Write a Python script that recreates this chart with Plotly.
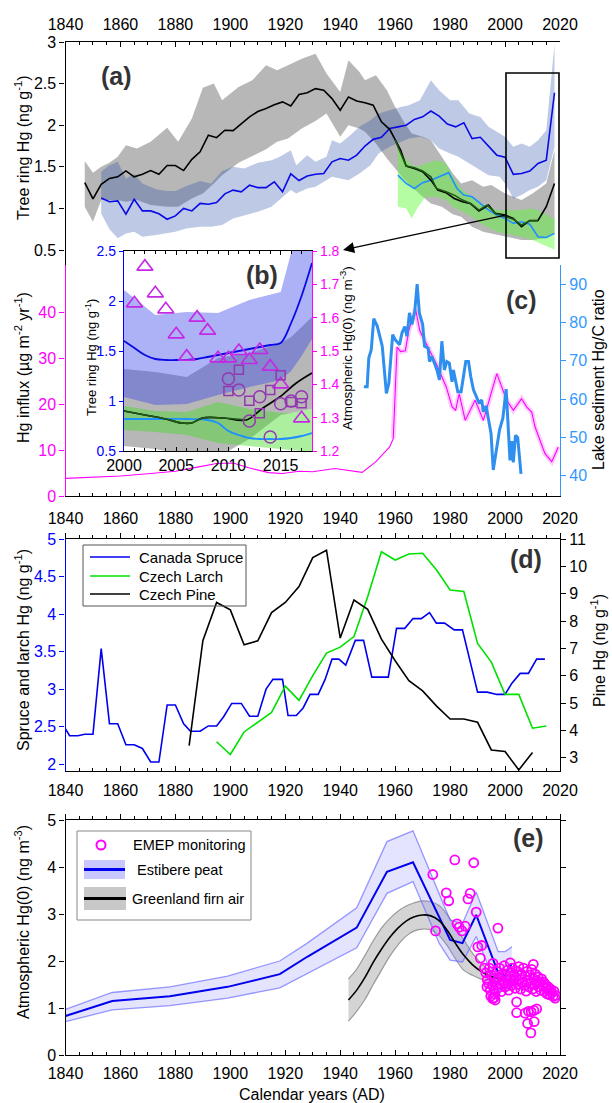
import plotly.graph_objects as go

W, H = 612, 1103
FONT = "Liberation Sans, Arial, Helvetica, sans-serif"
MAG = "#ff00ff"
LB = "#3399ff"
BLUE = "#0000ff"


def px(x):
    return x / W


def py(y):
    return 1 - y / H


# ---------------- Panel (a): tree ring Hg ----------------
a_black_years = [1847, 1850, 1853, 1856, 1859, 1862, 1865, 1868, 1871, 1874, 1877, 1880, 1883, 1886, 1889,
                 1892, 1895, 1898, 1901, 1904, 1907, 1910, 1913, 1916, 1919, 1922, 1925, 1928, 1931, 1934,
                 1937, 1940, 1943, 1946, 1949, 1952, 1955, 1958, 1960, 1962, 1964, 1967, 1970, 1973, 1975.5,
                 1978.5, 1981.5, 1984.5, 1987.5, 1990.5, 1994, 1996.5, 2000, 2003, 2006, 2009, 2012, 2015, 2018]
a_black_vals = [1.31, 1.115, 1.29, 1.36, 1.38, 1.45, 1.38, 1.41, 1.455, 1.41, 1.515, 1.515, 1.455, 1.59, 1.68,
                1.88, 1.85, 1.94, 1.935, 2.015, 2.10, 2.165, 2.20, 2.245, 2.28, 2.23, 2.37, 2.39, 2.44, 2.42,
                2.32, 2.18, 2.34, 2.29, 2.27, 2.24, 2.04, 1.95, 1.82, 1.70, 1.51, 1.48, 1.44, 1.34, 1.22,
                1.19, 1.12, 1.08, 1.055, 0.97, 1.04, 0.94, 0.92, 0.88, 0.78, 0.855, 0.855, 1.02, 1.30]

a_dgreen_years = [1960, 1962, 1964, 1967, 1970, 1973, 1975, 1978.5, 1981.5, 1984.5, 1987.5, 1990.5, 1993.5,
                  1996.5, 2000, 2003, 2006, 2009, 2012]
a_dgreen_vals = [1.82, 1.66, 1.51, 1.49, 1.45, 1.38, 1.24, 1.20, 1.16, 1.10, 1.06, 0.98, 1.04,
                 0.94, 0.90, 0.87, 0.80, 0.85, 0.85]

a_blue_years = [1853, 1856, 1859, 1862, 1865, 1868, 1871, 1874, 1877, 1880,
                1883, 1886, 1889, 1892, 1895, 1898, 1901, 1904, 1907, 1910,
                1913, 1916, 1919, 1922, 1925, 1928, 1931, 1934, 1937, 1940,
                1943, 1946, 1949, 1952, 1955, 1958, 1961, 1964, 1967, 1970,
                1973, 1976, 1979, 1982, 1985, 1988, 1991, 1994, 1997, 2000,
                2003, 2006, 2009, 2012, 2015, 2018]
a_blue_vals = [1.125, 1.08, 1.09, 0.93, 1.11, 0.97, 0.97, 0.935, 0.87, 0.91,
               1.0, 0.97, 1.06, 1.05, 1.07, 1.175, 1.22, 1.20, 1.28, 1.25,
               1.25, 1.32, 1.20, 1.415, 1.335, 1.39, 1.41, 1.42, 1.56, 1.60,
               1.58, 1.64, 1.75, 1.83, 1.855, 1.96, 1.98, 2.0, 2.07, 2.10,
               2.17, 2.11, 2.015, 1.98, 2.03, 1.84, 1.855, 1.745, 1.64, 1.615,
               1.41, 1.42, 1.45, 1.54, 1.58, 2.39]

a_cyan_years = [1961, 1964, 1967, 1970, 1973, 1977, 1979.5, 1982.5, 1985, 1988, 1991, 1994, 1997, 2000,
                2003, 2006, 2009, 2012, 2015, 2018]
a_cyan_vals = [1.40, 1.30, 1.24, 1.31, 1.34, 1.40, 1.43, 1.24, 1.16, 1.14, 1.06, 0.98, 0.92, 0.88,
               0.82, 0.84, 0.81, 0.66, 0.65, 0.70]

a_gray_years = [1847, 1850, 1853, 1856, 1859, 1862, 1866, 1871, 1877, 1881, 1886, 1890, 1894, 1897, 1903,
                1908, 1913, 1917, 1921, 1926, 1931, 1935, 1940, 1943, 1947, 1949, 1953, 1957, 1960, 1963,
                1966, 1970, 1973, 1977, 1981, 1984, 1988, 1992, 1995, 2000, 2003, 2006, 2010, 2015, 2018]
a_gray_hi = [1.57, 1.43, 1.50, 1.55, 1.62, 1.76, 1.72, 1.80, 1.97, 1.80, 2.08, 2.45, 2.50, 2.30, 2.46,
             2.54, 2.72, 2.66, 2.72, 2.80, 2.86, 2.62, 2.40, 2.78, 2.64, 2.54, 2.60, 2.42, 2.22, 2.05,
             1.90, 1.86, 1.82, 1.62, 1.42, 1.30, 1.34, 1.26, 1.28, 1.18, 1.14, 1.10, 1.18, 1.30, 1.70]
a_gray_lo = [1.02, 0.84, 1.10, 1.10, 1.10, 1.08, 1.10, 1.04, 1.02, 1.02, 1.12, 1.18, 1.30, 1.40, 1.55,
             1.63, 1.71, 1.80, 1.84, 1.96, 2.05, 2.14, 1.86, 2.00, 1.96, 1.92, 1.78, 1.60, 1.48, 1.36,
             1.26, 1.14, 1.06, 1.02, 0.93, 0.90, 0.78, 0.72, 0.70, 0.66, 0.64, 0.62, 0.62, 0.64, 0.70]

a_bband_years = [1853, 1856, 1859, 1862, 1865, 1868, 1873, 1877, 1880, 1884, 1889, 1893, 1897, 1901, 1905,
                 1910, 1915, 1918, 1922, 1924, 1928, 1931, 1935, 1937, 1940, 1943, 1947, 1951, 1954, 1958,
                 1962, 1965, 1969, 1973, 1976, 1980, 1983, 1987, 1991, 1994, 1998, 2000, 2003, 2006, 2009,
                 2012, 2015, 2018]
a_bband_hi = [1.44, 1.52, 1.56, 1.36, 1.41, 1.30, 1.23, 1.21, 1.21, 1.27, 1.33, 1.30, 1.45, 1.50, 1.48,
              1.55, 1.58, 1.62, 1.70, 1.52, 1.64, 1.56, 1.62, 1.82, 1.78, 1.86, 1.98, 2.06, 2.14, 2.18,
              2.22, 2.24, 2.30, 2.54, 2.42, 2.30, 2.30, 2.14, 2.10, 1.98, 1.90, 1.86, 1.74, 1.78, 1.74,
              1.82, 1.94, 2.98]
a_bband_lo = [0.94, 0.75, 0.64, 0.70, 0.72, 0.66, 0.68, 0.70, 0.72, 0.76, 0.78, 0.78, 0.80, 0.88, 0.92,
              0.96, 1.02, 1.10, 1.22, 1.18, 1.24, 1.26, 1.34, 1.38, 1.36, 1.34, 1.42, 1.52, 1.66, 1.74,
              1.80, 1.84, 1.86, 1.82, 1.72, 1.66, 1.62, 1.54, 1.46, 1.40, 1.38, 1.30, 1.12, 1.16, 1.22,
              1.26, 1.34, 1.74]

a_gband_years = [1961, 1964, 1966, 1968, 1971, 1975, 1978.5, 1981, 1984.5, 1988, 1992, 1997, 2000, 2003,
                 2006, 2010, 2014, 2017, 2018]
a_gband_hi = [1.72, 1.60, 1.52, 1.50, 1.54, 1.58, 1.54, 1.38, 1.22, 1.14, 1.04, 0.98, 0.98, 0.98,
              0.98, 1.00, 0.95, 0.88, 0.88]
a_gband_lo = [1.02, 1.00, 0.88, 1.00, 1.14, 1.14, 1.10, 1.02, 0.96, 0.90, 0.80, 0.72, 0.70, 0.68,
              0.66, 0.62, 0.56, 0.52, 0.50]

# ---------------- Panel (b): inset 2000-2018 ----------------
b_band_years = [2000, 2003, 2006, 2009, 2012, 2015, 2016, 2017, 2018]
b_blue_hi = [2.11, 1.86, 1.89, 1.88, 2.01, 2.09, 2.48, 2.70, 2.80]
b_blue_lo = [1.04, 0.96, 0.97, 1.06, 1.14, 1.21, 1.30, 1.45, 1.62]
b_gray_hi = [1.32, 1.29, 1.24, 1.43, 1.48, 1.58, 1.64, 1.74, 1.84]
b_gray_lo = [0.55, 0.52, 0.46, 0.44, 0.62, 0.86, 0.88, 0.90, 0.92]
b_green_hi = [0.95, 0.90, 0.89, 0.99, 0.92, 0.88, 0.88, 0.90, 0.92]
b_green_lo = [0.71, 0.69, 0.66, 0.58, 0.55, 0.52, 0.51, 0.50, 0.50]

b_blue_years = [2000, 2001, 2002, 2003, 2004, 2005, 2006, 2007, 2008, 2009, 2010, 2011, 2012, 2013, 2014,
                2015, 2016, 2017, 2018]
b_blue_vals = [1.60, 1.53, 1.46, 1.42, 1.41, 1.41, 1.41, 1.42, 1.44, 1.46, 1.48, 1.50, 1.52, 1.54, 1.56,
               1.58, 1.78, 2.05, 2.38]
b_black_years = [2000, 2002, 2004, 2005.5, 2006.5, 2007.5, 2009.5, 2011.7, 2013.3, 2014.9, 2016.5, 2018]
b_black_vals = [0.90, 0.86, 0.82, 0.78, 0.78, 0.83, 0.83, 0.81, 0.93, 1.04, 1.18, 1.28]
b_dgreen_years = [2000, 2002, 2004, 2005.5, 2006.5, 2007.5, 2009.5, 2011.7]
b_dgreen_vals = [0.90, 0.86, 0.82, 0.78, 0.78, 0.83, 0.83, 0.81]
b_cyan_years = [2000, 2002, 2004, 2006, 2008, 2009, 2010, 2011, 2012, 2013, 2014, 2015, 2016, 2017, 2018]
b_cyan_vals = [0.82, 0.82, 0.82, 0.82, 0.81, 0.78, 0.70, 0.66, 0.63, 0.62, 0.62, 0.62, 0.63, 0.65, 0.68]

b_tri_years = [2001, 2002, 2003, 2004, 2005, 2006, 2007, 2008, 2009, 2010, 2011, 2012, 2013, 2014, 2015, 2017]
b_tri_vals = [1.643, 1.753, 1.673, 1.625, 1.55, 1.483, 1.60, 1.561, 1.478, 1.478, 1.50, 1.473, 1.503,
              1.453, 1.40, 1.298]
b_sq_years = [2010, 2011, 2012, 2013, 2014, 2015, 2016, 2017]
b_sq_vals = [1.38, 1.444, 1.351, 1.313, 1.383, 1.427, 1.347, 1.343]
b_circ_years = [2010, 2011, 2012, 2013, 2014, 2015, 2016, 2017]
b_circ_vals = [1.417, 1.383, 1.29, 1.363, 1.242, 1.342, 1.35, 1.363]

# ---------------- Panel (c): peat Hg influx and lake Hg/C ----------------
c_mag_years = [1840, 1860, 1871, 1880, 1888, 1895, 1901, 1907, 1914, 1919, 1925, 1930, 1938, 1948, 1953,
               1958, 1959.3, 1960.7, 1962, 1963.7, 1965, 1967.4, 1969, 1971.4, 1975, 1978.6, 1980.7, 1982,
               1983.3, 1985.5, 1989.1, 1992.1, 1997, 2000.6, 2003, 2006, 2007.9, 2009.7, 2010.9, 2014.5,
               2017, 2019.4]
c_mag_vals = [3.85, 4.35, 4.9, 5.4, 6.3, 7.1, 7.2, 6.1, 5.1, 4.9, 5.4, 5.3, 6.0, 5.15, 7.5,
              10.7, 12.5, 32.5, 31.5, 31.7, 36.2, 40.8, 36.0, 33.2, 28.8, 23.8, 19.5, 18.7,
              22.3, 16.5, 20.9, 16.5, 26.7, 20.9, 18.7, 21.2, 19.4, 18.3, 15.1, 9.3,
              7.5, 10.7]
c_band_start = 16  # index of 1959.3: uncertainty envelope shown from here on

c_lake_years = [1948.6, 1949.8, 1950.4, 1951.3, 1952.2, 1953.5, 1955.3, 1956.8, 1957.7, 1959.1,
                1960.0, 1961.6, 1962.5, 1963.5, 1964.3, 1965.2, 1966.1, 1967.1, 1968.0, 1968.8,
                1970.0, 1970.7, 1972.0, 1972.5, 1973.4, 1974.3, 1975.2, 1976.1, 1977.0, 1977.9,
                1978.8, 1979.7, 1980.7, 1981.2, 1982.1, 1982.8, 1984.0, 1985.7, 1986.7, 1987.5,
                1988.5, 1989.7, 1990.6, 1991.5, 1992.1, 1993.1, 1993.9, 1994.9, 1995.7, 1997.0,
                1998.0, 1999.2, 2000.4, 2001.8, 2002.5, 2003.0, 2003.8, 2004.6, 2005.8]
c_lake_vals = [63.2, 63.2, 70.7, 72.9, 81.0, 79.0, 73.8, 61.5, 64.1, 76.8,
               75.5, 74.2, 77.3, 78.9, 76.4, 82.5, 79.5, 82.7, 90.0, 82.5,
               79.5, 73.8, 73.3, 69.8, 71.1, 69.4, 67.6, 65.0, 75.1, 67.6,
               69.8, 69.4, 64.5, 67.6, 64.1, 61.9, 61.9, 69.8, 69.8, 65.9,
               62.4, 60.6, 58.9, 59.8, 56.7, 58.2, 55.3, 51.0, 41.5, 47.0,
               52.0, 55.0, 62.6, 44.0, 49.0, 43.5, 50.5, 50.0, 40.5]

# ---------------- Panel (d): spruce, larch, pine ----------------
d_spruce_years = [1840, 1841.5, 1844.5, 1847, 1850, 1853, 1856, 1859, 1862, 1865,
                  1868, 1871, 1874, 1877, 1880, 1883, 1885.5, 1889, 1892, 1895,
                  1897.5, 1900.5, 1904, 1907, 1910, 1913, 1915.5, 1919, 1921, 1924,
                  1926.5, 1929, 1932, 1934.5, 1937, 1939.5, 1942, 1945.5, 1948.5, 1951.5,
                  1954.5, 1957.5, 1960.5, 1963.5, 1966.5, 1969.5, 1972.5, 1975, 1978, 1981.5,
                  1984.5, 1990, 1993.5, 1997, 2000, 2002.5, 2005.5, 2008.5, 2011.5, 2014.5]
d_spruce_vals = [2.47, 2.38, 2.38, 2.40, 2.40, 3.54, 2.54, 2.54, 2.26, 2.26,
                 2.21, 2.03, 2.03, 2.79, 2.79, 2.54, 2.44, 2.44, 2.51, 2.51,
                 2.63, 2.81, 2.81, 2.64, 2.64, 3.0, 3.13, 3.13, 2.65, 2.65,
                 2.75, 2.93, 2.93, 3.13, 3.40, 3.40, 3.32, 3.65, 3.65, 3.16,
                 3.16, 3.16, 3.81, 3.81, 3.94, 3.94, 4.02, 3.88, 3.88, 3.79,
                 3.79, 2.96, 2.96, 2.93, 2.93, 3.08, 3.21, 3.21, 3.40, 3.40]
d_larch_years = [1895, 1900, 1905, 1910, 1915, 1920, 1925, 1930, 1935, 1940, 1945, 1950, 1955, 1960, 1965,
                 1970, 1975, 1980, 1985, 1990, 1995, 2000, 2005, 2010, 2015]
d_larch_vals = [2.30, 2.13, 2.43, 2.56, 2.69, 3.04, 2.85, 3.18, 3.48, 3.56, 3.70, 4.23, 4.83, 4.72, 4.80,
                4.81, 4.59, 4.32, 4.30, 3.61, 3.36, 2.93, 2.93, 2.48, 2.51]
d_pine_years = [1885, 1890, 1895, 1900, 1905, 1910, 1915, 1920, 1925, 1930, 1935, 1940, 1945, 1950, 1955,
                1960, 1965, 1970, 1975, 1980, 1985, 1990, 1995, 2000, 2005, 2010]
d_pine_vals = [3.45, 7.28, 8.68, 8.41, 7.13, 7.28, 8.31, 8.68, 9.26, 10.32, 10.59, 7.38, 8.77, 8.43, 7.34,
               6.55, 5.82, 5.45, 4.90, 4.42, 4.42, 4.30, 3.29, 3.23, 2.56, 3.20]

# ---------------- Panel (e): atmospheric Hg(0) ----------------
e_peat_years = [1840, 1857, 1878, 1899, 1918, 1928, 1946, 1957, 1966.5, 1976, 1980, 1984.5, 1989.5, 1997.5,
                2000, 2002.5]
e_peat_vals = [0.83, 1.15, 1.25, 1.45, 1.72, 2.09, 2.71, 3.90, 4.10, 2.93, 2.45, 2.38, 2.98, 1.75, 1.70, 1.95]
e_peat_hi = [0.97, 1.33, 1.45, 1.68, 2.00, 2.38, 3.13, 4.54, 4.77, 3.44, 2.87, 2.80, 3.47, 2.20, 2.20, 2.30]
e_peat_lo = [0.71, 0.96, 1.05, 1.21, 1.43, 1.74, 2.28, 3.44, 3.69, 2.38, 2.02, 1.98, 2.52, 1.38, 1.35, 1.60]

e_firn_years = [1943, 1946, 1949, 1952, 1955, 1958, 1961, 1964, 1967, 1970, 1973, 1976, 1979, 1982, 1985,
                1988, 1991, 1994, 1997, 2000, 2003, 2005]
e_firn_vals = [1.17, 1.38, 1.65, 1.97, 2.25, 2.50, 2.70, 2.85, 2.94, 2.98, 2.96, 2.86, 2.65, 2.37, 2.12,
               1.93, 1.79, 1.69, 1.63, 1.60, 1.58, 1.57]
e_firn_hi = [1.62, 1.83, 2.12, 2.43, 2.70, 2.90, 3.06, 3.17, 3.24, 3.28, 3.26, 3.18, 2.98, 2.72, 2.45,
             2.18, 1.97, 1.80, 1.70, 1.65, 1.61, 1.59]
e_firn_lo = [0.72, 0.93, 1.18, 1.50, 1.80, 2.10, 2.34, 2.53, 2.64, 2.68, 2.66, 2.54, 2.32, 2.04, 1.80,
             1.70, 1.62, 1.58, 1.56, 1.55, 1.55, 1.55]

e_emep_early_years = [1973.7, 1974.7, 1978.6, 1979.5, 1981.7, 1982.5, 1983.3, 1984.3, 1985.5, 1986.5,
                      1987.3, 1988.6, 1989.5, 1990.1, 1991.0, 1991.5, 1992.5, 1993.4, 1997.4, 2001.9,
                      2010.3, 2004.2, 2004.2, 2007.3, 2008.2, 2009.4, 2010.6, 2008.5, 2009.5, 2010.5,
                      2011.5, 2018.2]
e_emep_early_vals = [3.84, 2.64, 3.45, 3.28, 4.15, 2.79, 2.72, 2.64, 2.74, 3.32,
                     3.44, 4.09, 3.04, 2.30, 2.06, 2.33, 1.85, 1.45, 2.70, 1.96,
                     1.93, 1.13, 0.90, 0.89, 0.67, 0.47, 0.71, 0.93, 0.92, 0.95,
                     0.98, 1.21]
e_emep_recent_years = [1993.0, 1993.5, 1994.0, 1994.3, 1994.6, 1994.8, 1995.0, 1995.3, 1995.5, 1995.6,
                       1996.0, 1996.0, 1996.3, 1996.4, 1996.6, 1997.0, 1997.3, 1997.7, 1998.0, 1998.3,
                       1998.7, 1999.0, 1999.3, 1999.7, 2000.0, 2000.3, 2000.7, 2001.0, 2001.3, 2001.7,
                       2002.0, 2002.3, 2002.7, 2003.0, 2003.3, 2003.7, 2004.0, 2004.5, 2004.8, 2005.0,
                       2005.3, 2005.7, 2006.0, 2006.3, 2006.7, 2007.0, 2007.3, 2007.7, 2008.0, 2008.3,
                       2008.7, 2009.0, 2009.3, 2009.7, 2010.0, 2010.5, 2010.8, 2011.0, 2011.3, 2011.7,
                       2012.0, 2012.3, 2012.7, 2013.0, 2013.3, 2013.7, 2014.0, 2014.3, 2014.7, 2015.0,
                       2015.3, 2015.7, 2016.0, 2016.3, 2016.7, 2017.0, 2017.5, 2017.8, 2018.5]
e_emep_recent_vals = [1.75, 1.60, 1.52, 1.85, 1.38, 1.25, 1.70, 1.48, 1.20, 1.95,
                      1.62, 1.22, 1.30, 1.17, 1.55, 1.78, 1.42, 1.65, 1.85, 1.50,
                      1.35, 1.72, 1.58, 1.90, 1.45, 1.68, 1.80, 1.52, 1.38, 1.62,
                      1.75, 1.48, 1.85, 1.58, 1.70, 1.42, 1.65, 1.78, 1.50, 1.88,
                      1.62, 1.40, 1.72, 1.55, 1.85, 1.48, 1.68, 1.36, 1.78, 1.58,
                      1.45, 1.70, 1.52, 1.82, 1.40, 1.62, 1.50, 1.72, 1.35, 1.58,
                      1.66, 1.45, 1.55, 1.38, 1.62, 1.48, 1.55, 1.35, 1.50, 1.42,
                      1.30, 1.45, 1.38, 1.28, 1.40, 1.32, 1.25, 1.36, 1.27]

x_ticks_main = [1840, 1860, 1880, 1900, 1920, 1940, 1960, 1980, 2000, 2020]

pairs = [(a_black_years, a_black_vals), (a_dgreen_years, a_dgreen_vals), (a_blue_years, a_blue_vals),
         (a_cyan_years, a_cyan_vals), (a_gray_years, a_gray_hi), (a_gray_years, a_gray_lo),
         (a_bband_years, a_bband_hi), (a_bband_years, a_bband_lo), (a_gband_years, a_gband_hi),
         (a_gband_years, a_gband_lo), (b_band_years, b_blue_hi), (b_band_years, b_blue_lo),
         (b_band_years, b_gray_hi), (b_band_years, b_gray_lo), (b_band_years, b_green_hi),
         (b_band_years, b_green_lo), (b_blue_years, b_blue_vals), (b_black_years, b_black_vals),
         (b_dgreen_years, b_dgreen_vals), (b_cyan_years, b_cyan_vals), (b_tri_years, b_tri_vals),
         (b_sq_years, b_sq_vals), (b_circ_years, b_circ_vals), (c_mag_years, c_mag_vals),
         (c_lake_years, c_lake_vals), (d_spruce_years, d_spruce_vals), (d_larch_years, d_larch_vals),
         (d_pine_years, d_pine_vals), (e_peat_years, e_peat_vals), (e_peat_years, e_peat_hi),
         (e_peat_years, e_peat_lo), (e_firn_years, e_firn_vals), (e_firn_years, e_firn_hi),
         (e_firn_years, e_firn_lo), (e_emep_early_years, e_emep_early_vals),
         (e_emep_recent_years, e_emep_recent_vals)]
for i, (xx, yy) in enumerate(pairs):
    assert len(xx) == len(yy), (i, len(xx), len(yy))

fig = go.Figure()


def add_band(x, lo, hi, color, xa, ya):
    fig.add_trace(go.Scatter(x=list(x) + list(x)[::-1], y=list(hi) + list(lo)[::-1], fill='toself',
                             fillcolor=color, line=dict(width=0), mode='lines', xaxis=xa, yaxis=ya,
                             showlegend=False, hoverinfo='skip'))


def add_line(x, y, color, width, xa, ya, shape='linear'):
    fig.add_trace(go.Scatter(x=x, y=y, mode='lines', line=dict(color=color, width=width, shape=shape),
                             xaxis=xa, yaxis=ya, showlegend=False, hoverinfo='skip'))


# (a)
add_band(a_gray_years, a_gray_lo, a_gray_hi, 'rgba(135,135,135,0.6)', 'x', 'y')
add_band(a_gband_years, a_gband_lo, a_gband_hi, 'rgba(90,250,50,0.45)', 'x', 'y')
add_band(a_bband_years, a_bband_lo, a_bband_hi, 'rgba(40,80,170,0.30)', 'x', 'y')
add_line(a_blue_years, a_blue_vals, '#0a0ae6', 1.6, 'x', 'y')
add_line(a_cyan_years, a_cyan_vals, '#1e90ff', 1.6, 'x', 'y')
add_line(a_black_years, a_black_vals, 'black', 1.6, 'x', 'y')
add_line(a_dgreen_years, a_dgreen_vals, '#1f5a14', 1.6, 'x', 'y')

# (c)
add_line(c_mag_years[c_band_start:], c_mag_vals[c_band_start:], 'rgba(255,0,255,0.2)', 5, 'x2', 'y2')
add_line(c_mag_years, c_mag_vals, MAG, 1.1, 'x2', 'y2')
add_line(c_lake_years, c_lake_vals, '#2f8fef', 3, 'x2', 'y3')

# (b) inset
add_band(b_band_years, b_gray_lo, b_gray_hi, 'rgba(135,135,135,0.6)', 'x3', 'y4')
add_band(b_band_years, b_green_lo, b_green_hi, 'rgba(70,220,40,0.45)', 'x3', 'y4')
add_band(b_band_years, b_blue_lo, b_blue_hi, 'rgba(60,70,230,0.42)', 'x3', 'y4')
add_line(b_blue_years, b_blue_vals, '#0a0ae6', 1.8, 'x3', 'y4', shape='spline')
add_line(b_cyan_years, b_cyan_vals, '#1e90ff', 1.8, 'x3', 'y4', shape='spline')
add_line(b_black_years, b_black_vals, 'black', 1.6, 'x3', 'y4', shape='spline')
add_line(b_dgreen_years, b_dgreen_vals, '#1f5a14', 1.6, 'x3', 'y4', shape='spline')
fig.add_trace(go.Scatter(x=b_tri_years, y=b_tri_vals, mode='markers', xaxis='x3', yaxis='y5',
                         marker=dict(symbol='triangle-up-open', size=14, color='#c428e6',
                                     line=dict(width=1.6, color='#c428e6')),
                         showlegend=False, hoverinfo='skip', cliponaxis=False))
fig.add_trace(go.Scatter(x=b_sq_years, y=b_sq_vals, mode='markers', xaxis='x3', yaxis='y5',
                         marker=dict(symbol='square-open', size=9, color='#9338b0',
                                     line=dict(width=1.5, color='#9338b0')),
                         showlegend=False, hoverinfo='skip'))
fig.add_trace(go.Scatter(x=b_circ_years, y=b_circ_vals, mode='markers', xaxis='x3', yaxis='y5',
                         marker=dict(symbol='circle-open', size=12, color='#9338b0',
                                     line=dict(width=1.5, color='#9338b0')),
                         showlegend=False, hoverinfo='skip'))

# (d)
add_line(d_spruce_years, d_spruce_vals, '#0000ee', 1.6, 'x4', 'y6')
add_line(d_larch_years, d_larch_vals, '#00e000', 1.6, 'x4', 'y6')
add_line(d_pine_years, d_pine_vals, 'black', 1.6, 'x4', 'y7')
fig.add_trace(go.Scatter(x=[1900], y=[3], mode='markers', marker=dict(opacity=0), xaxis='x6', yaxis='y6',
                         showlegend=False, hoverinfo='skip'))

# (e)
add_band(e_firn_years, e_firn_lo, e_firn_hi, 'rgba(160,160,160,0.45)', 'x5', 'y8')
add_line(e_firn_years, e_firn_hi, 'rgba(120,120,120,0.7)', 1.2, 'x5', 'y8', shape='spline')
add_line(e_firn_years, e_firn_lo, 'rgba(120,120,120,0.7)', 1.2, 'x5', 'y8', shape='spline')
add_band(e_peat_years, e_peat_lo, e_peat_hi, 'rgba(130,130,255,0.22)', 'x5', 'y8')
add_line(e_peat_years, e_peat_hi, 'rgba(100,100,255,0.65)', 1.3, 'x5', 'y8')
add_line(e_peat_years, e_peat_lo, 'rgba(100,100,255,0.65)', 1.3, 'x5', 'y8')
add_line(e_peat_years, e_peat_vals, '#0000ee', 2, 'x5', 'y8')
add_line(e_firn_years, e_firn_vals, 'black', 1.6, 'x5', 'y8', shape='spline')
fig.add_trace(go.Scatter(x=e_emep_early_years + e_emep_recent_years,
                         y=e_emep_early_vals + e_emep_recent_vals, mode='markers', xaxis='x5', yaxis='y8',
                         marker=dict(symbol='circle-open', size=9, color=MAG, line=dict(width=1.8, color=MAG)),
                         showlegend=False, hoverinfo='skip'))
fig.add_trace(go.Scatter(x=[1900], y=[3], mode='markers', marker=dict(opacity=0), xaxis='x7', yaxis='y8',
                         showlegend=False, hoverinfo='skip'))

# ---------------- axes ----------------
base = dict(showgrid=False, zeroline=False, showline=True, linewidth=1.3, linecolor='black',
            tickcolor='black', tickwidth=1.3, ticklen=5, tickfont=dict(family=FONT, size=16, color='black'))


def xmain(**kw):
    d = dict(base)
    d.update(domain=[px(65.5), px(560)], range=[1840, 2020], tickvals=x_ticks_main,
             minor=dict(ticks='inside', dtick=5, tick0=1840, ticklen=3, tickcolor='black', tickwidth=1))
    d.update(kw)
    return d


def colored(color, size=16):
    return dict(linecolor=color, tickcolor=color, tickfont=dict(family=FONT, size=size, color=color))


layout_axes = dict(
    xaxis=xmain(anchor='y', side='top', ticks='inside', ticklabelstandoff=4),
    yaxis=dict(base, domain=[py(265), py(42)], range=[0.32, 3], anchor='x',
               tickvals=[0.5, 1, 1.5, 2, 2.5, 3], ticks='outside'),
    xaxis2=xmain(anchor='y2', side='bottom', ticks='inside', ticklabelstandoff=8),
    yaxis2=dict(base, domain=[py(496), py(265)], range=[0, 50.4], anchor='x2',
                tickvals=[0, 10, 20, 30, 40], ticks='outside', **colored(MAG)),
    yaxis3=dict(base, overlaying='y2', side='right', anchor='x2', range=[34.7, 95],
                tickvals=[40, 50, 60, 70, 80, 90], ticks='outside', **colored(LB)),
    xaxis3=dict(base, domain=[px(124), px(312)], range=[2000, 2018], anchor='y4',
                tickvals=[2000, 2005, 2010, 2015], ticks='inside', mirror='ticks', ticklen=4,
                minor=dict(ticks='inside', dtick=1, tick0=2000, ticklen=3, tickcolor='black')),
    yaxis4=dict(base, domain=[py(451), py(251)], range=[0.5, 2.5], anchor='x3',
                tickvals=[0.5, 1, 1.5, 2, 2.5], ticks='outside', ticklen=4, **colored(BLUE, 14)),
    yaxis5=dict(base, overlaying='y4', side='right', anchor='x3', range=[1.2, 1.8],
                tickvals=[1.2, 1.3, 1.4, 1.5, 1.6, 1.7, 1.8], ticks='outside', ticklen=4, **colored(MAG, 14)),
    xaxis4=xmain(anchor='y6', side='bottom', ticks='inside', ticklabelstandoff=5),
    xaxis6=xmain(anchor='y6', overlaying='x4', side='top', ticks='outside', showticklabels=False,
                 minor=dict(ticks='outside', dtick=5, tick0=1840, ticklen=3, tickcolor='black')),
    yaxis6=dict(base, domain=[py(771), py(539)], range=[1.91, 5], anchor='x4',
                tickvals=[2, 2.5, 3, 3.5, 4, 4.5, 5], ticks='outside', **colored(BLUE)),
    yaxis7=dict(base, overlaying='y6', side='right', anchor='x4', range=[2.52, 11],
                tickvals=[3, 4, 5, 6, 7, 8, 9, 10, 11], ticks='outside'),
    xaxis5=xmain(anchor='y8', side='bottom', ticks='inside', ticklabelstandoff=4),
    xaxis7=xmain(anchor='y8', overlaying='x5', side='top', ticks='outside', showticklabels=False,
                 minor=dict(ticks='outside', dtick=5, tick0=1840, ticklen=3, tickcolor='black')),
    yaxis8=dict(base, domain=[py(1055), py(820)], range=[0, 5], anchor='x5',
                tickvals=[0, 1, 2, 3, 4, 5], ticks='outside', mirror='ticks'),
)

# ---------------- annotations ----------------
ann = []


def text(x, y, s, size=16, color='black', angle=0, bold=False, xanchor='center'):
    ann.append(dict(x=px(x), y=py(y), xref='paper', yref='paper', text=f"<b>{s}</b>" if bold else s,
                    showarrow=False, textangle=angle, xanchor=xanchor, yanchor='middle',
                    font=dict(family=FONT, size=size, color=color)))


text(22, 148, "Tree ring Hg (ng g<sup>-1</sup>)", angle=-90)
text(22, 368, "Hg influx (µg m<sup>-2</sup> yr<sup>-1</sup>)", angle=-90)
text(598, 380, "Lake sediment Hg/C ratio", angle=-90)
text(22, 650, "Spruce and larch Hg (ng g<sup>-1</sup>)", angle=-90)
text(598, 651, "Pine Hg (ng g<sup>-1</sup>)", angle=-90)
text(22, 922, "Atmospheric Hg(0) (ng m<sup>-3</sup>)", angle=-90)
text(91, 358, "Tree ring Hg (ng g<sup>-1</sup>)", size=13, angle=-90)
text(346, 348, "Atmospheric Hg(0) (ng m<sup>-3</sup>)", size=13.5, angle=-90)
text(312, 1094, "Calendar years (AD)")
text(116, 76, "(a)", size=25, color='#333333', bold=True)
text(262, 275, "(b)", size=25, color='#333333', bold=True)
text(521, 300, "(c)", size=25, color='#333333', bold=True)
text(526, 559, "(d)", size=25, color='#333333', bold=True)
text(528, 838, "(e)", size=25, color='#333333', bold=True)

# legend (d)
text(137, 557, "Canada Spruce", size=15, xanchor='left')
text(137, 576, "Czech Larch", size=15, xanchor='left')
text(137, 594, "Czech Pine", size=15, xanchor='left')
# legend (e)
text(131, 845, "EMEP monitoring", size=14.5, xanchor='left')
text(135, 870, "Estibere peat", size=14.5, xanchor='left')
text(130, 899, "Greenland firn air", size=14.5, xanchor='left')

# arrow from box to inset
ann.append(dict(x=px(343), y=py(250), xref='paper', yref='paper', ax=163, ay=-35, text='',
                showarrow=True, arrowhead=2, arrowsize=1.6, arrowwidth=1.4, arrowcolor='black'))

shapes = []


def pline(x0, y0, x1, y1, color, width):
    shapes.append(dict(type='line', xref='paper', yref='paper', x0=px(x0), y0=py(y0), x1=px(x1), y1=py(y1),
                       line=dict(color=color, width=width)))


def prect(x0, y0, x1, y1, line_color=None, fill=None, width=1):
    shapes.append(dict(type='rect', xref='paper', yref='paper', x0=px(x0), y0=py(y0), x1=px(x1), y1=py(y1),
                       line=dict(color=line_color or 'rgba(0,0,0,0)', width=width if line_color else 0),
                       fillcolor=fill or 'rgba(0,0,0,0)'))


# zoom box in (a)
prect(506, 73, 559, 258, line_color='black', width=1.6)
# legend (d)
prect(83, 545, 246, 606, line_color='#555555', width=1)
pline(90, 557, 130, 557, '#0000ee', 1.6)
pline(90, 576, 130, 576, '#00e000', 1.6)
pline(90, 594, 130, 594, 'black', 1.6)
# legend (e)
prect(77, 831, 251, 920, line_color='#888888', width=1)
shapes.append(dict(type='circle', xref='paper', yref='paper', x0=px(96.5), x1=px(105.5), y0=py(849.5),
                   y1=py(840.5), line=dict(color=MAG, width=2)))
prect(84, 860, 125, 879, fill='#c8c8ff')
pline(84, 869.5, 125, 869.5, '#0000ee', 3)
prect(84, 887, 126, 910, fill='#c8c8c8')
pline(84, 898.5, 126, 898.5, 'black', 3)

fig.update_layout(
    width=W, height=H, margin=dict(l=0, r=0, t=0, b=0, autoexpand=False),
    paper_bgcolor='white', plot_bgcolor='rgba(0,0,0,0)', showlegend=False,
    font=dict(family=FONT, size=16, color='black'),
    annotations=ann, shapes=shapes, **layout_axes,
)

fig.write_html("out.html", config=dict(displayModeBar=False),
               post_script="document.body.style.margin='0';document.body.style.overflow='hidden';")
